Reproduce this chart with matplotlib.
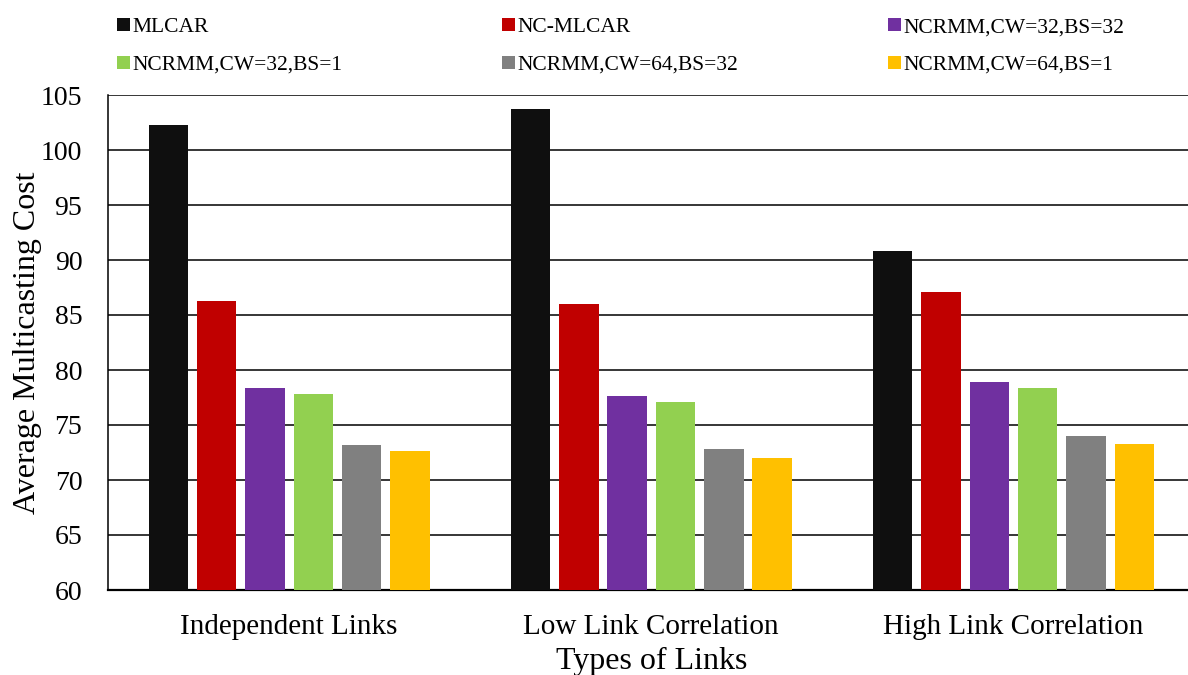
import numpy as np
import matplotlib
matplotlib.use("Agg")
import matplotlib.pyplot as plt
from matplotlib.patches import Patch

# Data
categories = ["Independent Links", "Low Link Correlation", "High Link Correlation"]
series_names = ["MLCAR", "NC-MLCAR", "NCRMM,CW=32,BS=32",
                "NCRMM,CW=32,BS=1", "NCRMM,CW=64,BS=32", "NCRMM,CW=64,BS=1"]
mlcar = [102.3, 103.7, 90.8]
nc_mlcar = [86.25, 86.0, 87.1]
ncrmm_32_32 = [78.4, 77.6, 78.9]
ncrmm_32_1 = [77.8, 77.1, 78.4]
ncrmm_64_32 = [73.2, 72.8, 74.0]
ncrmm_64_1 = [72.6, 72.0, 73.3]
series_values = [mlcar, nc_mlcar, ncrmm_32_32, ncrmm_32_1, ncrmm_64_32, ncrmm_64_1]
colors = ["#0f0f0f", "#c00000", "#7030a0", "#92d050", "#808080", "#ffc000"]
y_ticks = [60, 65, 70, 75, 80, 85, 90, 95, 100, 105]

plt.rcParams["font.family"] = ["Liberation Serif", "DejaVu Serif"]

W, H = 1188, 675
fig = plt.figure(figsize=(W / 100, H / 100), dpi=100)
ax = fig.add_axes([108 / W, 85 / H, 1086.6 / W, 495 / H])

x = np.arange(len(categories))
pitch = 0.1334
width = 0.109
n = len(series_values)
for i, (vals, col, name) in enumerate(zip(series_values, colors, series_names)):
    ax.bar(x + (i - (n - 1) / 2) * pitch, vals, width=width, color=col,
           label=name, zorder=3)

ax.set_xlim(-0.5, len(categories) - 0.5)
ax.set_ylim(60, 105)
ax.set_yticks(y_ticks)
ax.set_xticks(x)
ax.set_xticklabels(categories)
ax.yaxis.grid(True, color="black", linewidth=1.1, zorder=0)
ax.set_axisbelow(True)

for s in ["top", "right"]:
    ax.spines[s].set_visible(False)
ax.spines["left"].set_linewidth(1.1)
ax.spines["bottom"].set_linewidth(1.6)

ax.tick_params(axis="y", length=0, pad=18.5, labelsize=20)
ax.tick_params(axis="x", length=0, pad=17.5, labelsize=21)

ax.set_ylabel("Average Multicasting Cost", fontsize=23)
ax.yaxis.set_label_coords(-0.061, 0.5)
ax.set_xlabel("Types of Links", fontsize=23)
ax.xaxis.set_label_coords(0.5, -0.116)

# Legend: three columns, two rows each
handles = [Patch(facecolor=c, edgecolor="none") for c in colors]
col_x = [116.5, 502, 887.5]
columns = [(0, 3), (1, 4), (2, 5)]
for cx, (a, b) in zip(col_x, columns):
    fig.legend([handles[a], handles[b]], [series_names[a], series_names[b]],
               loc="upper left", bbox_to_anchor=(cx / W, 1 - 18 / H),
               bbox_transform=fig.transFigure, frameon=False,
               fontsize=15.5, borderpad=0, borderaxespad=0,
               handlelength=0.62, handleheight=0.58, handletextpad=0.1,
               labelspacing=0.85)

fig.savefig("out.png", dpi=100)
